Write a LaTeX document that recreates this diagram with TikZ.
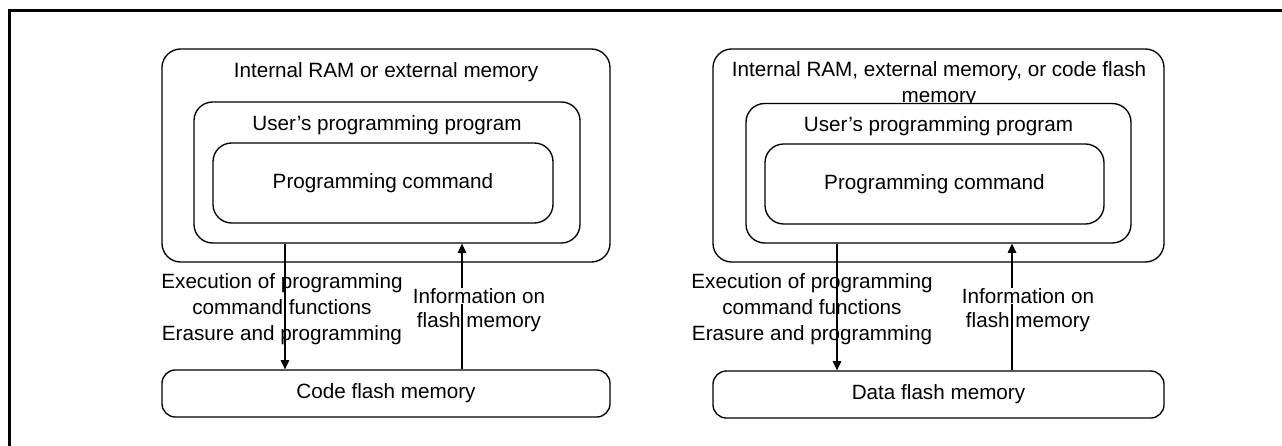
\documentclass[tikz,border=0pt]{standalone}
\usepackage{fontspec}
\setmainfont{Liberation Sans}
\usetikzlibrary{positioning, arrows.meta}

\begin{document}
\begin{tikzpicture}[
    x=0.75pt, y=-0.75pt,
    every node/.style={font=\fontsize{15.5}{19.5}\selectfont},
    frame/.style={line width=2.25pt},
    membox/.style={draw, line width=1pt, rounded corners=14pt, inner sep=0pt},
    flashbox/.style={draw, line width=1pt, rounded corners=10pt, inner sep=0pt},
    lbl/.style={align=center, inner sep=0pt},
    flow/.style={line width=0.8pt, -{Triangle[length=7pt, width=6.5pt]}}
]
  \useasboundingbox (0,0) rectangle (1282,446);
  % Frame
  \draw[frame] (9,446) -- (9,10.5) -- (1282,10.5);

  % Code flash side
  \node[membox, minimum width=336pt, minimum height=159.75pt] (ramA) at (386,155.5) {};
  \node[anchor=base] (ramAtxt) at (386,77) {Internal RAM or external memory};
  \node[membox, fill=white, minimum width=289.5pt, minimum height=105.75pt] (userA) at (387,172.5) {};
  \node[anchor=base] (userAtxt) at (387,130) {User’s programming program};
  \node[membox, minimum width=255pt, minimum height=60pt] (cmdA) at (383,183) {Programming command};
  \node[flashbox, minimum width=336pt, minimum height=35.25pt] (flashA) at (386,393.5) {Code flash memory};
  \coordinate (downA) at (285,0);
  \coordinate (upA) at (462,0);
  \draw[flow] (userA.south -| downA) -- (flashA.north -| downA);
  \draw[flow] (flashA.north -| upA) -- (userA.south -| upA);
  \node[lbl] (execA) at (282,309) {Execution of programming\\command functions\\Erasure and programming};
  \node[lbl, fill=white] (infoA) at (479,296) {Information on};
  \node[lbl] (infoA2) at (479,322) {flash memory};

  % Data flash side
  \node[membox, minimum width=338.25pt, minimum height=159.75pt] (ramB) at (938.5,155.5) {};
  \node[anchor=base, align=center] (ramBtxt) at (939,102.5) {Internal RAM, external memory, or code flash\\memory};
  \node[membox, fill=white, minimum width=288.75pt, minimum height=104.6pt] (userB) at (938.5,173.25) {};
  \node[anchor=base] (userBtxt) at (938.5,131) {User’s programming program};
  \node[membox, minimum width=254.25pt, minimum height=60pt] (cmdB) at (934.5,184) {Programming command};
  \node[flashbox, minimum width=338.25pt, minimum height=35.25pt] (flashB) at (938.5,394.5) {Data flash memory};
  \coordinate (downB) at (837,0);
  \coordinate (upB) at (1012,0);
  \draw[flow] (userB.south -| downB) -- (flashB.north -| downB);
  \draw[flow] (flashB.north -| upB) -- (userB.south -| upB);
  \node[lbl] (execB) at (812,309) {Execution of programming\\command functions\\Erasure and programming};
  \node[lbl, fill=white] (infoB) at (1028,296) {Information on};
  \node[lbl] (infoB2) at (1028,322) {flash memory};
\end{tikzpicture}
\end{document}
